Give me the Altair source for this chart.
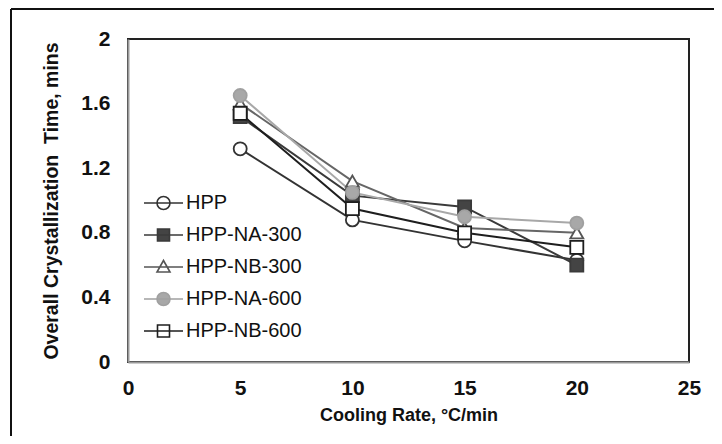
import altair as alt
import pandas as pd

cooling_rate = [5, 10, 15, 20]
series_names = ["HPP", "HPP-NA-300", "HPP-NB-300", "HPP-NA-600", "HPP-NB-600"]
hpp = [1.32, 0.88, 0.75, 0.63]
hpp_na_300 = [1.52, 1.03, 0.96, 0.60]
hpp_nb_300 = [1.60, 1.12, 0.83, 0.80]
hpp_na_600 = [1.65, 1.05, 0.90, 0.86]
hpp_nb_600 = [1.54, 0.95, 0.80, 0.71]

values = [hpp, hpp_na_300, hpp_nb_300, hpp_na_600, hpp_nb_600]
rows = []
for name, vals in zip(series_names, values):
    for xv, yv in zip(cooling_rate, vals):
        rows.append({"series": name, "rate": xv, "time": yv})
df = pd.DataFrame(rows)

line_colors = ["#333333", "#3a3a3a", "#666666", "#a8a8a8", "#1e1e1e"]
stroke_colors = ["#333333", "#3a3a3a", "#555555", "#a0a0a0", "#1e1e1e"]
fill_colors = ["#ffffff", "#444444", "#ffffff", "#a8a8a8", "#ffffff"]
plot_shapes = ["circle", "square", "triangle-up", "circle", "square"]

legend_shapes = [
    "M-1,0H2.9M1.6,0A0.65,0.65,0,1,1,0.3,0A0.65,0.65,0,1,1,1.6,0Z",
    "M-1,0H2.9M0.35,-0.6H1.55V0.6H0.35Z",
    "M-1,0H2.9M0.95,-0.65L1.6,0.5H0.3Z",
    "M-1,0H2.9M1.6,0A0.65,0.65,0,1,1,0.3,0A0.65,0.65,0,1,1,1.6,0Z",
    "M-1,0H2.9M0.35,-0.6H1.55V0.6H0.35Z",
]

FONT = "Liberation Sans"

x_enc = alt.X("rate:Q",
              scale=alt.Scale(domain=[0, 25], nice=False),
              axis=alt.Axis(values=[0, 5, 10, 15, 20, 25], title="Cooling Rate, °C/min",
                            grid=False, ticks=False, labelPadding=15, titlePadding=8,
                            labelFlush=False,
                            domainColor="#9a9a9a", domainWidth=2,
                            labelFont=FONT, labelFontSize=21, labelFontWeight="bold",
                            labelColor="#111111", titleFont=FONT, titleFontSize=18,
                            titleFontWeight="bold", titleColor="#111111"))
y_enc = alt.Y("time:Q",
              scale=alt.Scale(domain=[0, 2], nice=False),
              axis=alt.Axis(values=[0, 0.4, 0.8, 1.2, 1.6, 2], format=".1~f",
                            title="Overall Crystallization\u00a0 Time, mins",
                            grid=False, ticks=False, labelPadding=18, titlePadding=19,
                            labelFlush=False,
                            domainColor="#9a9a9a", domainWidth=2,
                            labelFont=FONT, labelFontSize=21, labelFontWeight="bold",
                            labelColor="#111111", titleFont=FONT, titleFontSize=19.5,
                            titleFontWeight="bold", titleColor="#111111"))

lines = alt.Chart(df).mark_line(strokeWidth=2).encode(
    x=x_enc, y=y_enc,
    color=alt.Color("series:N", scale=alt.Scale(domain=series_names, range=line_colors), legend=None),
    detail="series:N",
)

points = alt.Chart(df).mark_point(size=170, strokeWidth=1.8, opacity=1).encode(
    x="rate:Q", y="time:Q",
    shape=alt.Shape("series:N", scale=alt.Scale(domain=series_names, range=plot_shapes), legend=None),
    fill=alt.Fill("series:N", scale=alt.Scale(domain=series_names, range=fill_colors), legend=None),
    stroke=alt.Stroke("series:N", scale=alt.Scale(domain=series_names, range=stroke_colors), legend=None),
)

leg = alt.Legend(title=None, orient="none", legendX=15, legendY=153, padding=0,
                 symbolSize=400, symbolStrokeWidth=1.6, symbolOpacity=1,
                 labelFont=FONT, labelFontSize=20, labelColor="#111111",
                 labelOffset=21, rowPadding=11, labelLimit=300)

legend_layer = alt.Chart(df).mark_point(size=170, opacity=1).encode(
    x="rate:Q", y="time:Q",
    shape=alt.Shape("series:N", scale=alt.Scale(domain=series_names, range=legend_shapes), legend=leg),
    fill=alt.Fill("series:N", scale=alt.Scale(domain=series_names, range=fill_colors), legend=leg),
    stroke=alt.Stroke("series:N", scale=alt.Scale(domain=series_names, range=stroke_colors), legend=leg),
).transform_filter("datum.rate < 0")

border_v = alt.Chart(df).mark_rule(color="#111111", strokeWidth=2).encode(
    x=alt.value(-117), y=alt.value(-30), y2=alt.value(430))
border_h = alt.Chart(df).mark_rule(color="#111111", strokeWidth=2).encode(
    x=alt.value(-117), x2=alt.value(700), y=alt.value(-30))

chart = alt.layer(border_v, border_h, lines, points, legend_layer).resolve_scale(
    shape="independent", fill="independent", stroke="independent"
).properties(
    width=561, height=323,
    autosize=alt.AutoSizeParams(type="none"),
    padding={"left": 120, "top": 31, "right": 25, "bottom": 74},
).configure_view(stroke="#222222", strokeWidth=2)

chart.save("out.html", embed_options={"renderer": "svg", "actions": False})
